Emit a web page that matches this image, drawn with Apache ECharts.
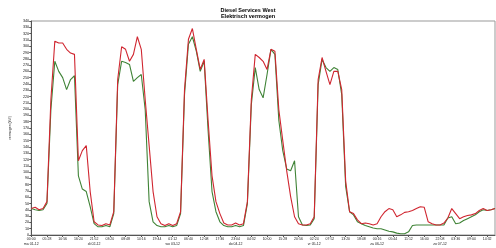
<!DOCTYPE html>
<html><head><meta charset="utf-8">
<script src="https://cdn.jsdelivr.net/npm/echarts@6/dist/echarts.min.js"></script>
<style>html,body{margin:0;padding:0;background:#fff}#c{width:496px;height:248px}</style>
</head><body><div id="c"></div>
<script>
const titleLines = ["Diesel Services West", "Elektrisch vermogen"];
const yAxisName = "vermogen (kW)";
const startTime = "2008-12-01T00:00";
const stepMinutes = 82;
const dayNames = ["zo", "ma", "di", "wo", "do", "vr", "za"];
const redValues = [42,44,40,42,53,215,308,305,305,295,289,287,118,134,142,69,21,16,15,18,16,37,247,299,295,276,287,315,295,215,142,69,29,18,15,18,15,18,37,231,311,328,295,263,279,182,94,53,34,19,16,16,19,16,18,53,215,287,282,276,263,295,292,199,150,102,61,29,18,16,16,18,29,247,282,260,239,260,260,231,86,37,34,24,18,19,18,16,18,29,37,42,40,29,32,36,37,39,42,45,44,21,18,16,16,19,27,42,34,26,29,31,32,34,39,42,39,40,42];
const greenValues = [42,40,39,40,50,199,276,260,250,231,247,253,94,73,69,45,18,13,13,15,13,34,239,276,274,271,244,250,255,199,53,21,15,13,13,15,13,15,34,223,303,315,292,260,276,166,69,37,21,15,13,13,15,13,15,50,207,266,231,218,255,295,287,182,134,105,102,118,29,16,15,16,26,239,279,266,260,266,263,223,77,37,32,21,18,15,13,11,10,10,8,6,5,3,2,2,5,15,16,16,16,16,16,16,16,16,27,29,18,19,23,26,29,32,37,40,39,40,42];

const LABEL_EVERY = 4;
const t0 = new Date(startTime).getTime();
const p = n => String(n).padStart(2, '0');
const categories = redValues.map((_, i) => {
  const d = new Date(t0 + i * stepMinutes * 60000);
  const mins = d.getHours() * 60 + d.getMinutes();
  let txt = p(d.getHours()) + ':' + p(d.getMinutes());
  const half = LABEL_EVERY * stepMinutes / 2;
  if (mins < half || mins >= 1440 - half) {
    const dd = new Date(d.getTime() + (mins >= 1440 - half ? 1440 - mins : 0) * 60000);
    txt += '\n' + dayNames[dd.getDay()] + ' ' + p(dd.getDate()) + '-' + p(dd.getMonth() + 1);
  }
  return txt;
});

const chart = echarts.init(document.getElementById('c'), null, {renderer: 'canvas'});
chart.setOption({
  animation: false,
  backgroundColor: '#ffffff',
  title: {
    text: titleLines.join('\n'),
    left: 'center', top: 2,
    textStyle: {fontSize: 5.5, fontWeight: 'bold', color: '#000', fontFamily: 'Arial, Liberation Sans', lineHeight: 6}
  },
  grid: {left: 22, right: 1, top: 21, bottom: 13, show: true, borderColor: '#999', borderWidth: 1, backgroundColor: '#fff'},
  xAxis: {
    type: 'category', data: categories, boundaryGap: false,
    axisLine: {lineStyle: {color: '#555'}},
    axisTick: {interval: LABEL_EVERY - 1, length: 2, lineStyle: {color: '#555'}},
    axisLabel: {interval: LABEL_EVERY - 1, fontSize: 3.5, color: '#222', margin: 2, lineHeight: 5},
    splitLine: {show: false}
  },
  yAxis: {
    type: 'value', min: 0, max: 340, interval: 10,
    name: yAxisName, nameLocation: 'middle', nameGap: 15,
    nameTextStyle: {fontSize: 3.5, color: '#222'},
    axisLine: {show: true, lineStyle: {color: '#555'}},
    axisTick: {show: true, length: 2, lineStyle: {color: '#555'}},
    axisLabel: {fontSize: 3.8, color: '#222', margin: 2},
    splitLine: {show: false}
  },
  series: [
    {name: 'green', type: 'line', data: greenValues, showSymbol: false, lineStyle: {color: '#3f8336', width: 1.1}, z: 2},
    {name: 'red', type: 'line', data: redValues, showSymbol: false, lineStyle: {color: '#d02630', width: 1.1}, z: 3}
  ]
});
</script></body></html>
